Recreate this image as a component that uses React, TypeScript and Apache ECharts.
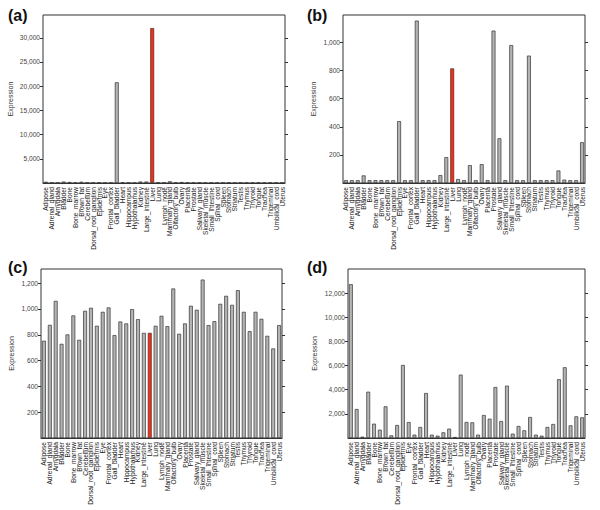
import React, { useEffect, useRef } from "react";
import * as echarts from "echarts";

const tissues = [
  "Adipose", "Adrenal_gland", "Amygdala", "Bladder", "Bone", "Bone_marrow", "Brown_fat",
  "Cerebellum", "Dorsal_root_ganglion", "Epidermis", "Eye", "Frontal_cortex", "Gall_bladder",
  "Heart", "Hippocampus", "Hypothalamus", "Kidney", "Large_intestine", "Liver", "Lung",
  "Lymph_node", "Mammary_gland", "Olfactory_bulb", "Ovary", "Placenta", "Prostate",
  "Salivary_gland", "Skeletal_muscle", "Small_intestine", "Spinal_cord", "Spleen", "Stomach",
  "Striatum", "Testis", "Thymus", "Thyroid", "Tongue", "Trachea", "Trigeminal",
  "Umbilical_cord", "Uterus",
];

const highlight = "Liver";

const valuesA = [
  250, 60, 40, 300, 200, 80, 250, 50, 60, 80, 40, 50, 20800, 150, 50, 50, 300, 300, 32000, 80,
  60, 350, 60, 200, 60, 80, 80, 50, 100, 50, 60, 80, 40, 60, 50, 60, 80, 60, 50, 60, 80,
];
const valuesB = [
  20, 20, 20, 54, 20, 20, 20, 20, 20, 440, 20, 20, 1155, 20, 20, 20, 56, 184, 815, 28,
  20, 127, 20, 134, 20, 1084, 318, 20, 981, 20, 20, 906, 20, 20, 20, 20, 89, 24, 20, 20, 290,
];
const valuesC = [
  754, 877, 1063, 730, 803, 950, 761, 986, 1009, 870, 978, 1012, 797, 903, 888, 999, 921, 815,
  815, 870, 947, 867, 1159, 808, 888, 1025, 994, 1228, 875, 906, 1040, 1102, 1032, 1146, 978,
  828, 978, 924, 792, 694, 875,
];
const valuesD = [
  12740, 2400, 110, 3836, 1187, 690, 2622, 220, 1076, 6050, 1325, 276, 911, 3726, 276, 193,
  469, 773, 80, 5250, 1325, 1297, 276, 1904, 1600, 4223, 1408, 4333, 359, 994, 635, 1739, 276,
  193, 911, 1160, 4870, 5860, 1049, 1794, 1711,
];

const ticksA = [5000, 10000, 15000, 20000, 25000, 30000];
const ticksB = [200, 400, 600, 800, 1000];
const ticksC = [200, 400, 600, 800, 1000, 1200];
const ticksD = [2000, 4000, 6000, 8000, 10000, 12000];

const panelLabels = ["(a)", "(b)", "(c)", "(d)"];

const panels = [
  { label: panelLabels[0], values: valuesA, ticks: ticksA, max: 34700, left: 43, top: 15, width: 242, height: 168, nameGap: 29 },
  { label: panelLabels[1], values: valuesB, ticks: ticksB, max: 1195, left: 343, top: 15, width: 242, height: 168, nameGap: 26 },
  { label: panelLabels[2], values: valuesC, ticks: ticksC, max: 1310, left: 41, top: 269, width: 241, height: 169, nameGap: 26 },
  { label: panelLabels[3], values: valuesD, ticks: ticksD, max: 14000, left: 348, top: 269, width: 237, height: 169, nameGap: 30 },
];

const FONT = "Liberation Sans, Arial, sans-serif";

export default function App() {
  const ref = useRef<HTMLDivElement>(null);
  useEffect(() => {
    if (!ref.current) return;
    const chart = echarts.init(ref.current, undefined, { renderer: "svg" });
    const fmt = (v: number) => (v === 0 ? "" : Number(v).toLocaleString("en-US"));
    const grid: any[] = [];
    const xAxis: any[] = [];
    const yAxis: any[] = [];
    const series: any[] = [];
    const graphic: any[] = [];
    panels.forEach((p, i) => {
      grid.push({
        left: p.left, top: p.top, width: p.width, height: p.height,
        show: true, borderColor: "#333", borderWidth: 1, backgroundColor: "transparent",
      });
      xAxis.push({
        type: "category", gridIndex: i, data: tissues,
        axisLine: { show: true, lineStyle: { color: "#333", width: 1 } },
        axisTick: { show: false },
        axisLabel: {
          interval: 0, rotate: 90, fontSize: 6.6, color: "#222", margin: 4, fontFamily: FONT,
        },
      });
      yAxis.push({
        type: "value", gridIndex: i, min: 0, max: p.max, position: "left",
        name: "Expression", nameLocation: "middle", nameGap: p.nameGap,
        nameTextStyle: { fontSize: 7, color: "#333", fontFamily: FONT },
        splitLine: { show: false },
        axisLine: { show: false },
        axisTick: { show: true, length: 3, customValues: p.ticks, lineStyle: { color: "#333" } },
        axisLabel: {
          customValues: p.ticks, formatter: fmt, fontSize: 6.6, color: "#444", margin: 3, fontFamily: FONT,
        },
      });
      yAxis.push({
        type: "value", gridIndex: i, min: 0, max: p.max, position: "right",
        splitLine: { show: false },
        axisLine: { show: false },
        axisTick: { show: true, length: 3, customValues: p.ticks, lineStyle: { color: "#333" } },
        axisLabel: { show: false },
      });
      series.push({
        type: "bar", xAxisIndex: i, yAxisIndex: i * 2,
        barWidth: "66%",
        data: p.values.map((v, j) => ({
          value: v,
          itemStyle: {
            color: tissues[j] === highlight ? "#ff2a10" : "#b4b4b4",
            borderColor: "#333", borderWidth: 0.7,
          },
        })),
      });
      graphic.push({
        type: "text",
        left: i % 2 === 0 ? 8 : 307,
        top: i < 2 ? 7 : 259,
        style: { text: p.label, font: `bold 16px ${FONT}`, fill: "#111" },
      });
    });
    chart.setOption({
      animation: false,
      backgroundColor: "#fff",
      grid, xAxis, yAxis, series, graphic,
    });
    return () => chart.dispose();
  }, []);
  return (
    <div
      ref={ref}
      style={{ position: "fixed", left: 0, top: 0, width: 600, height: 510 }}
    />
  );
}
